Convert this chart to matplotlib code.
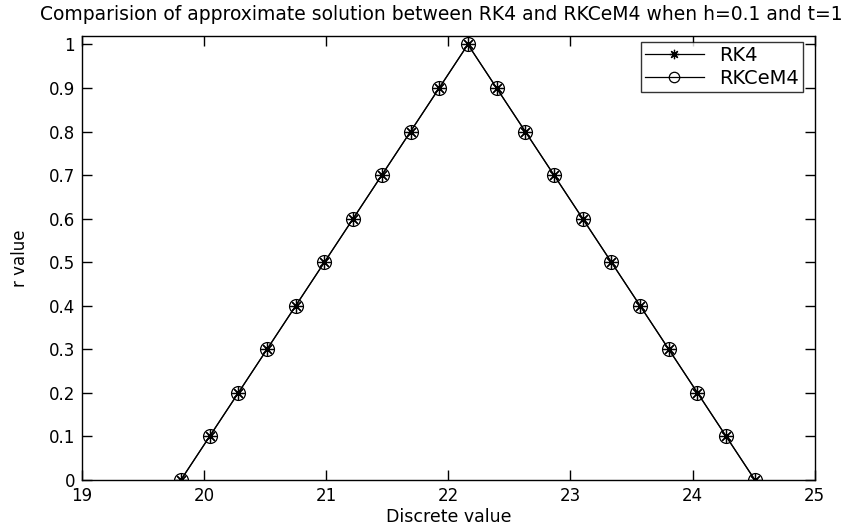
import matplotlib
matplotlib.use("Agg")
import matplotlib.pyplot as plt

plt.rcParams['font.family'] = ['DejaVu Sans']

r_values = [0.0, 0.1, 0.2, 0.3, 0.4, 0.5, 0.6, 0.7, 0.8, 0.9, 1.0,
            0.9, 0.8, 0.7, 0.6, 0.5, 0.4, 0.3, 0.2, 0.1, 0.0]
x_rk4 = [19.81, 20.045, 20.28, 20.515, 20.75, 20.985, 21.22, 21.455, 21.69, 21.925, 22.16,
         22.395, 22.63, 22.865, 23.10, 23.335, 23.57, 23.805, 24.04, 24.275, 24.51]
x_rkcem4 = [19.81, 20.045, 20.28, 20.515, 20.75, 20.985, 21.22, 21.455, 21.69, 21.925, 22.16,
            22.395, 22.63, 22.865, 23.10, 23.335, 23.57, 23.805, 24.04, 24.275, 24.51]
xticks = [19, 20, 21, 22, 23, 24, 25]
yticks = [0, 0.1, 0.2, 0.3, 0.4, 0.5, 0.6, 0.7, 0.8, 0.9, 1]
ytick_labels = ['0', '0.1', '0.2', '0.3', '0.4', '0.5', '0.6', '0.7', '0.8', '0.9', '1']

fig = plt.figure(figsize=(8.55, 5.26), dpi=100)
ax = fig.add_axes([0.0959, 0.0875, 0.857, 0.8445])

ax.plot(x_rk4, r_values, color='black', linewidth=0.9, marker=(8, 2, 0), markersize=9,
        markerfacecolor='black', markeredgecolor='black', markeredgewidth=0.9, label='RK4')
ax.plot(x_rkcem4, r_values, color='black', linewidth=0.9, marker='o', markersize=10,
        markerfacecolor='none', markeredgecolor='black', markeredgewidth=0.9, label='RKCeM4')

ax.set_xlim(19, 25)
ax.set_ylim(0, 1.02)
ax.set_xticks(xticks)
ax.set_xticklabels([str(t) for t in xticks])
ax.set_yticks(yticks)
ax.set_yticklabels(ytick_labels)
ax.tick_params(direction='in', top=True, right=True, labelsize=12, length=7, width=1, pad=5)
for s in ax.spines.values():
    s.set_linewidth(1.0)

fig.text(0.5158, 0.972,
         'Comparision of approximate solution between RK4 and RKCeM4 when h=0.1 and t=1',
         fontsize=13.5, ha='center', va='center')
ax.set_xlabel('Discrete value', fontsize=12.5, labelpad=2)
ax.set_ylabel('r value', fontsize=12, labelpad=14)

leg = ax.legend(loc='upper right', bbox_to_anchor=(0.9836, 0.986), fontsize=14,
                frameon=True, fancybox=False, edgecolor='black', borderaxespad=0.0,
                handlelength=3.0, handletextpad=0.8, borderpad=0.2, labelspacing=0.2,
                markerscale=0.75)
leg.get_frame().set_linewidth(1.0)

fig.savefig('out.png', dpi=100)
